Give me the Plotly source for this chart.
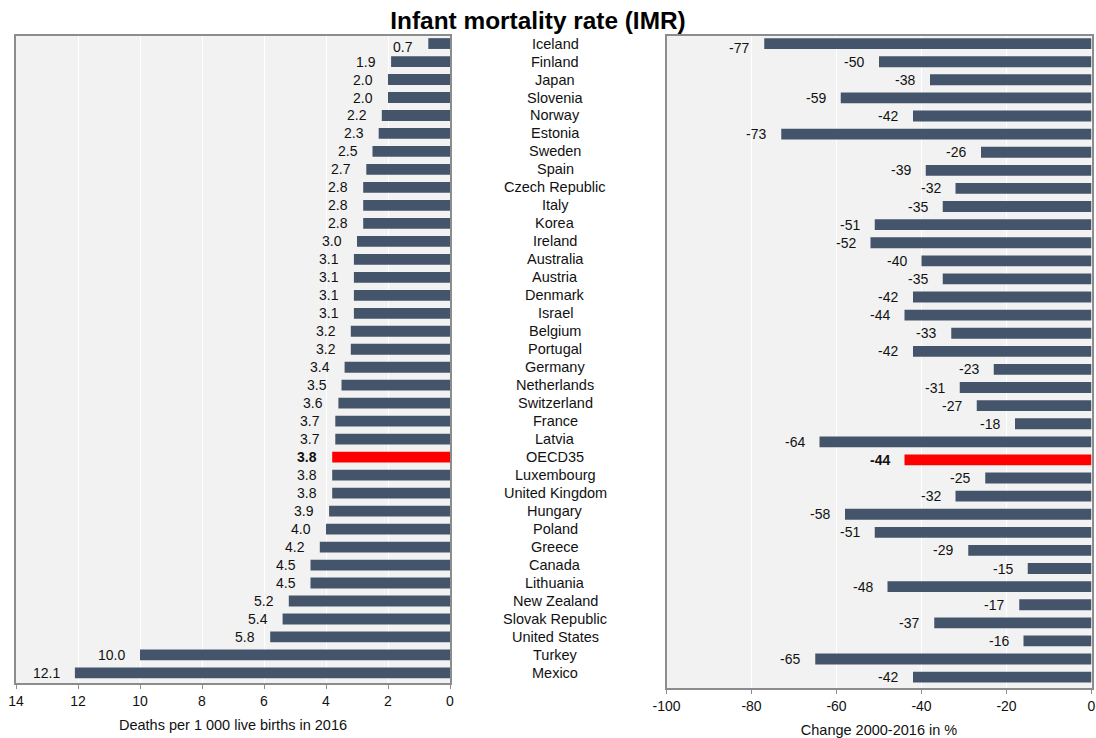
import plotly.graph_objects as go

countries = [
    "Iceland", "Finland", "Japan", "Slovenia", "Norway", "Estonia", "Sweden",
    "Spain", "Czech Republic", "Italy", "Korea", "Ireland", "Australia",
    "Austria", "Denmark", "Israel", "Belgium", "Portugal", "Germany",
    "Netherlands", "Switzerland", "France", "Latvia", "OECD35", "Luxembourg",
    "United Kingdom", "Hungary", "Poland", "Greece", "Canada", "Lithuania",
    "New Zealand", "Slovak Republic", "United States", "Turkey", "Mexico",
]
imr_2016 = [
    0.7, 1.9, 2.0, 2.0, 2.2, 2.3, 2.5, 2.7, 2.8, 2.8, 2.8, 3.0, 3.1, 3.1,
    3.1, 3.1, 3.2, 3.2, 3.4, 3.5, 3.6, 3.7, 3.7, 3.8, 3.8, 3.8, 3.9, 4.0,
    4.2, 4.5, 4.5, 5.2, 5.4, 5.8, 10.0, 12.1,
]
change_2000_2016 = [
    -77, -50, -38, -59, -42, -73, -26, -39, -32, -35, -51, -52, -40, -35,
    -42, -44, -33, -42, -23, -31, -27, -18, -64, -44, -25, -32, -58, -51,
    -29, -15, -48, -17, -37, -16, -65, -42,
]
left_ticks = [14, 12, 10, 8, 6, 4, 2, 0]
right_ticks = [-100, -80, -60, -40, -20, 0]

HIGHLIGHT = "OECD35"
BAR = "#44546A"
RED = "#FF0000"
FONT = "Liberation Sans, Arial, sans-serif"
TXT = "#111111"

colors = [RED if c == HIGHLIGHT else BAR for c in countries]

fig = go.Figure()
fig.add_trace(go.Bar(
    x=imr_2016, y=countries, orientation="h",
    marker=dict(color=colors, line=dict(width=0)), width=0.6,
    xaxis="x", yaxis="y", hoverinfo="x+y",
))
fig.add_trace(go.Bar(
    x=change_2000_2016, y=countries, orientation="h",
    marker=dict(color=colors, line=dict(width=0)), width=0.6,
    xaxis="x2", yaxis="y2", hoverinfo="x+y",
))


def add_value_labels(values, fmt, xref, yref, first_shift):
    # labels sit just beyond the end of each bar; the top row is nudged
    # down so it clears the frame
    for i, (c, v) in enumerate(zip(countries, values)):
        label = fmt(v)
        fig.add_annotation(
            x=v, xref=xref, y=c, yref=yref, showarrow=False,
            text=f"<b>{label}</b>" if c == HIGHLIGHT else label,
            xanchor="right", yanchor="middle", xshift=-13,
            yshift=first_shift if i == 0 else 0,
            font=dict(size=14, color=TXT, family=FONT),
        )


add_value_labels(imr_2016, lambda v: f"{v:.1f}", "x", "y", -3)
add_value_labels(change_2000_2016, lambda v: f"{v}", "x2", "y2", -4)

# country names in the central column
for c in countries:
    fig.add_annotation(
        x=555 / 1096, xref="paper", y=c, yref="y", text=c, showarrow=False,
        xanchor="center", yanchor="middle",
        font=dict(size=14.5, color=TXT, family=FONT),
    )

axis_common = dict(
    showline=True, linecolor="#8C8C8C", linewidth=1.5, mirror=True,
    showgrid=True, gridcolor="#FFFFFF", gridwidth=1.2, zeroline=False,
    ticks="outside", ticklen=4, tickcolor="#8C8C8C", automargin=False,
    tickfont=dict(size=14, color=TXT, family=FONT),
)
yaxis_common = dict(
    type="category", categoryorder="array", categoryarray=countries,
    showticklabels=False, showline=True, linecolor="#8C8C8C", linewidth=1.5,
    mirror=True, showgrid=False, ticks="", automargin=False,
)

fig.update_layout(
    width=1096, height=738,
    margin=dict(l=0, r=0, t=0, b=0, autoexpand=False),
    paper_bgcolor="white", plot_bgcolor="#F2F2F2",
    showlegend=False,
    font=dict(family=FONT, color=TXT),
    title=dict(text="<b>Infant mortality rate (IMR)</b>", x=538 / 1096, xanchor="center",
               y=1 - 20 / 738, yanchor="middle",
               font=dict(size=24.4, color="#000000", family=FONT)),
    xaxis=dict(domain=[16 / 1096, 450 / 1096], range=[14, 0], tickvals=left_ticks,
               ticktext=[str(t) for t in left_ticks], anchor="y",
               title=dict(text="Deaths per 1 000 live births in 2016", standoff=12,
                          font=dict(size=14.5, color=TXT, family=FONT)),
               **axis_common),
    yaxis=dict(domain=[1 - 683 / 738, 1 - 36 / 738], range=[35.56, -0.42],
               anchor="x", **yaxis_common),
    xaxis2=dict(domain=[666.5 / 1096, 1091.5 / 1096], range=[-100, 0], tickvals=right_ticks,
                ticktext=[str(t) for t in right_ticks], anchor="y2",
                title=dict(text="Change 2000-2016 in %", standoff=12,
                           font=dict(size=14.5, color=TXT, family=FONT)),
                **axis_common),
    yaxis2=dict(domain=[1 - 688 / 738, 1 - 36 / 738], range=[35.6, -0.42],
                anchor="x2", **yaxis_common),
)

fig.write_html("out.html")
